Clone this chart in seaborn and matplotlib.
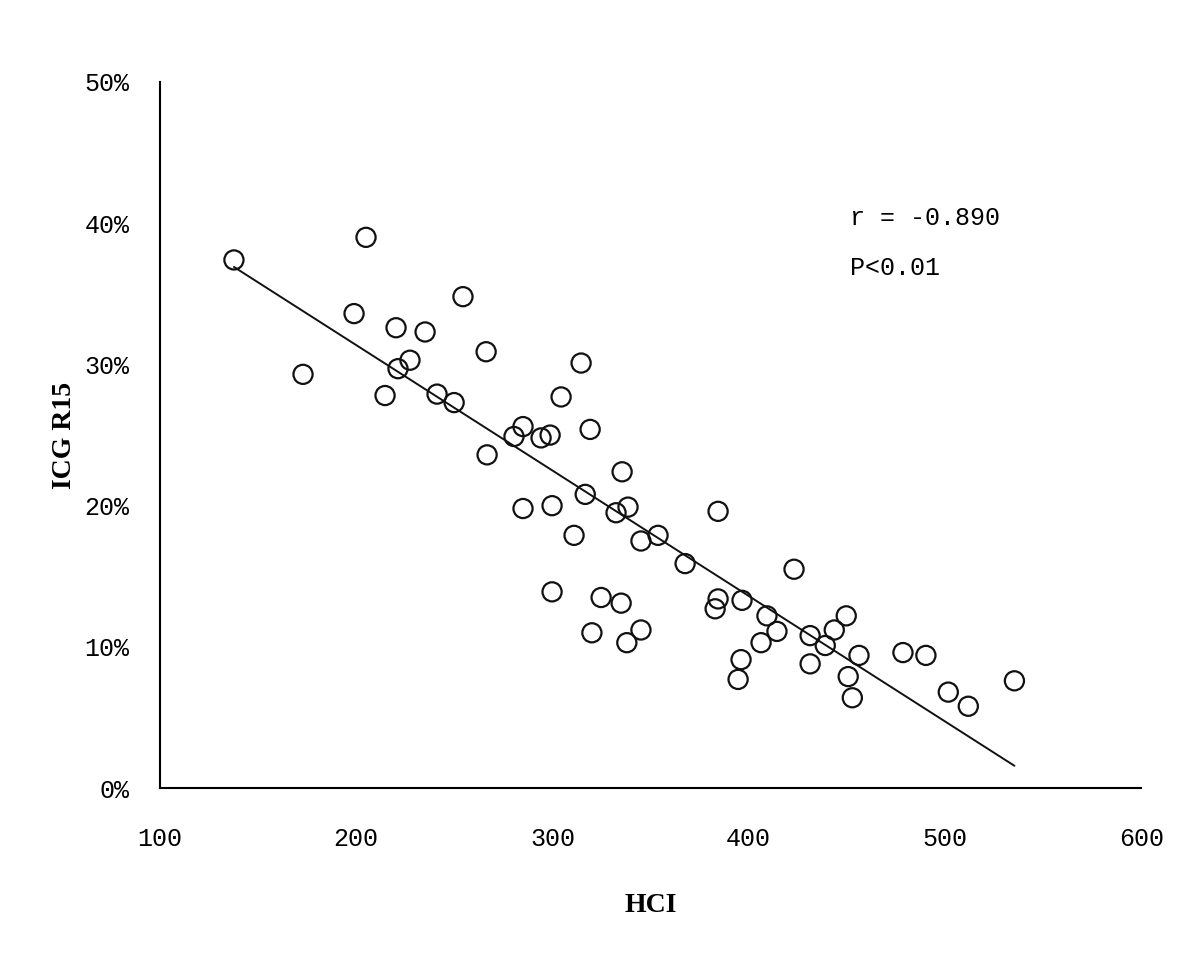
import matplotlib
matplotlib.use("Agg")
import matplotlib.pyplot as plt
import seaborn as sns
import pandas as pd
from matplotlib.ticker import FuncFormatter

hci = [137.7, 172.9, 198.9, 205.0, 214.7, 220.3, 221.3, 227.4, 235.1, 241.2,
       249.9, 254.4, 266.2, 266.7, 280.4, 285.0, 294.2, 298.8, 304.4, 314.6,
       319.2, 335.5, 316.7, 285.0, 299.8, 332.4, 338.5, 311.0, 345.1, 353.8,
       367.6, 384.4, 299.8, 324.8, 335.0, 320.1, 345.1, 337.9, 384.4, 382.9,
       396.6, 396.1, 423.1, 409.3, 414.4, 406.3, 431.3, 439.0, 443.6, 449.7,
       394.6, 431.3, 456.2, 478.6, 490.3, 450.7, 452.8, 501.7, 511.9, 535.4]
icg = [37.4, 29.3, 33.6, 39.0, 27.8, 32.6, 29.7, 30.3, 32.3, 27.9,
       27.3, 34.8, 30.9, 23.6, 24.9, 25.6, 24.8, 25.0, 27.7, 30.1,
       25.4, 22.4, 20.8, 19.8, 20.0, 19.5, 19.9, 17.9, 17.5, 17.9,
       15.9, 19.6, 13.9, 13.5, 13.1, 11.0, 11.2, 10.3, 13.4, 12.7,
       13.3, 9.1, 15.5, 12.2, 11.1, 10.3, 10.8, 10.1, 11.2, 12.2,
       7.7, 8.8, 9.4, 9.6, 9.4, 7.9, 6.4, 6.8, 5.8, 7.6]

x_ticks = [100, 200, 300, 400, 500, 600]
y_ticks = [0, 10, 20, 30, 40, 50]
annot_lines = ["r = -0.890", "P<0.01"]

df = pd.DataFrame({"HCI": hci, "ICG": icg})

sns.set_style("white")
plt.rcParams["font.family"] = ["Liberation Mono", "DejaVu Sans"]
plt.rcParams["text.color"] = "black"
plt.rcParams["axes.labelcolor"] = "black"

fig = plt.figure(figsize=(12, 9.6), dpi=100)
ax = fig.add_axes([0.1333, 0.179, 0.8177, 0.7356])

sns.regplot(data=df, x="HCI", y="ICG", ax=ax, ci=None, truncate=True,
            scatter_kws=dict(s=190, facecolors="none", edgecolors="#111111",
                             linewidths=1.6, alpha=1),
            line_kws=dict(color="#111111", lw=1.4))

ax.set_xlim(100, 600)
ax.set_ylim(0, 50)
ax.set_xticks(x_ticks)
ax.set_yticks(y_ticks)
ax.yaxis.set_major_formatter(FuncFormatter(lambda v, p: f"{v:.0f}%"))

for s in ["top", "right"]:
    ax.spines[s].set_visible(False)
for s in ["left", "bottom"]:
    ax.spines[s].set_color("black")
    ax.spines[s].set_linewidth(1.5)

ax.tick_params(axis="x", direction="in", length=7, width=1.3, pad=28,
               labelsize=18, colors="black")
ax.tick_params(axis="y", direction="in", length=7, width=1.3, pad=22,
               labelsize=18, colors="black")

ax.set_xlabel("HCI", fontsize=20, fontweight="bold", color="black",
              family=["Liberation Serif"], labelpad=30)
ax.set_ylabel("ICG R15", fontsize=20, fontweight="bold", color="black",
              family=["Liberation Serif"], labelpad=5)

ax.text(451.5, 40.4, annot_lines[0], fontsize=18, va="center", ha="left",
        color="black")
ax.text(451.5, 36.8, annot_lines[1], fontsize=18, va="center", ha="left",
        color="black")

fig.savefig("out.png", dpi=100, facecolor="white")
